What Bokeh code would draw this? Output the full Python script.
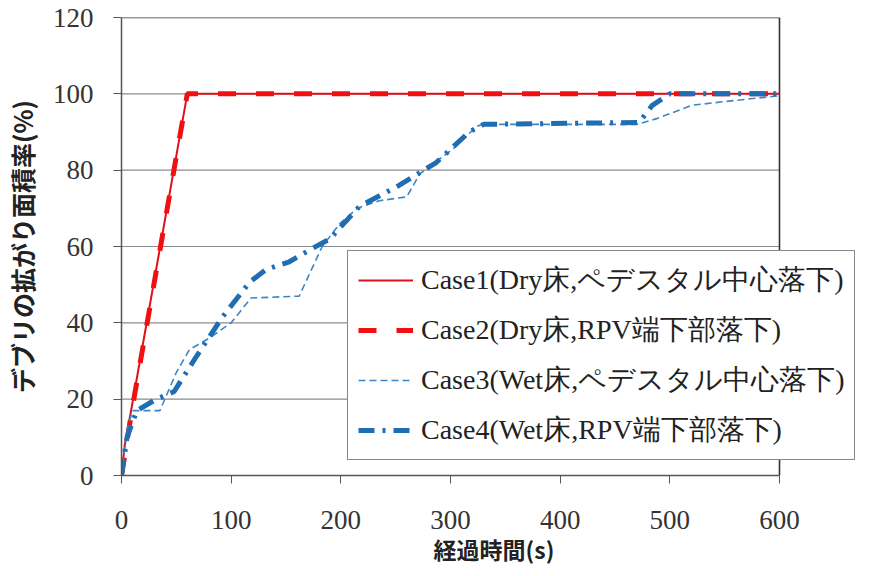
from bokeh.plotting import figure
from bokeh.models import Legend, LegendItem, FixedTicker, Range1d
from bokeh.embed import file_html
from bokeh.resources import INLINE

# Data
case1_t = [0, 3, 10, 60, 600]
case1_a = [0, 8, 19, 100, 100]
case2_t = [0, 5, 10, 60, 600]
case2_a = [0, 9, 18, 100, 100]
case3_t = [0, 5, 10, 35, 50, 62, 80, 100, 118, 162, 183, 199, 215, 235, 260,
           272, 302, 324, 330, 470, 488, 520, 551, 600]
case3_a = [0, 12, 17, 17, 27, 33, 36, 40, 46.5, 47, 60, 66, 70, 72, 73,
           79, 85.5, 91.5, 92, 92, 93.5, 97, 98, 99.5]
case4_t = [0, 1, 5, 14, 30, 48, 69, 92, 117, 132, 153, 171, 190, 217, 253,
           287, 317, 330, 472, 484, 500, 600]
case4_a = [0, 2, 10, 17, 19.7, 22, 31.5, 41.5, 50.7, 54, 56, 59, 62, 70.5, 76,
           82, 90, 92, 92.5, 97, 100, 100]

labels = ["Case1(Dry床,ペデスタル中心落下)",
          "Case2(Dry床,RPV端下部落下)",
          "Case3(Wet床,ペデスタル中心落下)",
          "Case4(Wet床,RPV端下部落下)"]
x_ticks = [0, 100, 200, 300, 400, 500, 600]
y_ticks = [0, 20, 40, 60, 80, 100, 120]
x_title = "経過時間(s)"
y_title = "デブリの拡がり面積率(%)"

x_min, x_max = x_ticks[0], x_ticks[-1]
y_min, y_max = y_ticks[0], y_ticks[-1]

# frame is wider than the data area so the legend may overhang the right border
fig_w, b_left, b_right = 870, 121, 4
frame_w = fig_w - b_left - b_right
x_end = x_max * frame_w / 658.0

p = figure(width=fig_w, height=568, output_backend="svg", toolbar_location=None,
           x_range=Range1d(x_min, x_end), y_range=Range1d(y_min, y_max),
           min_border_left=b_left, min_border_right=b_right, min_border_top=17,
           min_border_bottom=93)
p.background_fill_color = "white"
p.border_fill_color = "white"
p.outline_line_color = None

p.xgrid.visible = False
p.ygrid.visible = False

# horizontal grid lines limited to the data area
p.segment(x0=[x_min] * (len(y_ticks) - 2), x1=[x_max] * (len(y_ticks) - 2),
          y0=y_ticks[1:-1], y1=y_ticks[1:-1],
          line_color="#8c8c8c", line_width=1.2)
# top and right border of the data area
p.segment(x0=[x_min, x_max], x1=[x_max, x_max], y0=[y_max, y_min],
          y1=[y_max, y_max], line_color="#333333", line_width=1.6)

tick_font = "Liberation Serif"
for ax in (p.xaxis[0], p.yaxis[0]):
    ax.axis_line_color = "#555555"
    ax.axis_line_width = 1.5
    ax.major_tick_line_color = "#555555"
    ax.major_tick_in = 0
    ax.major_tick_out = 8
    ax.minor_tick_line_color = None
    ax.major_label_text_font = tick_font
    ax.major_label_text_font_size = "27px"
    ax.major_label_text_color = "#333333"
    ax.axis_label_text_font = "Noto Sans CJK JP"
    ax.axis_label_text_font_style = "bold"
    ax.axis_label_text_color = "#222222"

p.xaxis.bounds = (x_min, x_max)
p.xaxis.ticker = FixedTicker(ticks=x_ticks)
p.yaxis.ticker = FixedTicker(ticks=y_ticks)
p.xaxis.major_label_standoff = 27
p.yaxis.major_label_standoff = 20
p.xaxis.axis_label = x_title
p.yaxis.axis_label = y_title
p.xaxis.axis_label_text_font_size = "23px"
p.yaxis.axis_label_text_font_size = "25px"
p.xaxis.axis_label_standoff = 0
p.yaxis.axis_label_standoff = 10

r1 = p.line(case1_t, case1_a, line_color="#e0101a", line_width=2)
r2 = p.line(case2_t, case2_a, line_color="#f01010", line_width=5,
            line_dash="18 20")
r3 = p.line(case3_t, case3_a, line_color="#3d86c6", line_width=1.6,
            line_dash="7 4")
r4 = p.line(case4_t, case4_a, line_color="#1f6db2", line_width=5,
            line_dash="16 8 3 8")

legend = Legend(items=[LegendItem(label=labels[0], renderers=[r1]),
                       LegendItem(label=labels[1], renderers=[r2]),
                       LegendItem(label=labels[2], renderers=[r3]),
                       LegendItem(label=labels[3], renderers=[r4])],
                location=(226, 15))
legend.label_text_font = "Liberation Serif"
legend.label_text_font_size = "28px"
legend.label_text_color = "#222222"
legend.glyph_width = 55
legend.glyph_height = 36
legend.label_height = 36
legend.label_standoff = 8
legend.spacing = 12
legend.padding = 10
legend.margin = 0
legend.border_line_color = "#111111"
legend.border_line_width = 1.5
legend.background_fill_color = "white"
legend.background_fill_alpha = 1.0
p.add_layout(legend, "center")

open("out.html", "w").write(file_html(p, INLINE))
